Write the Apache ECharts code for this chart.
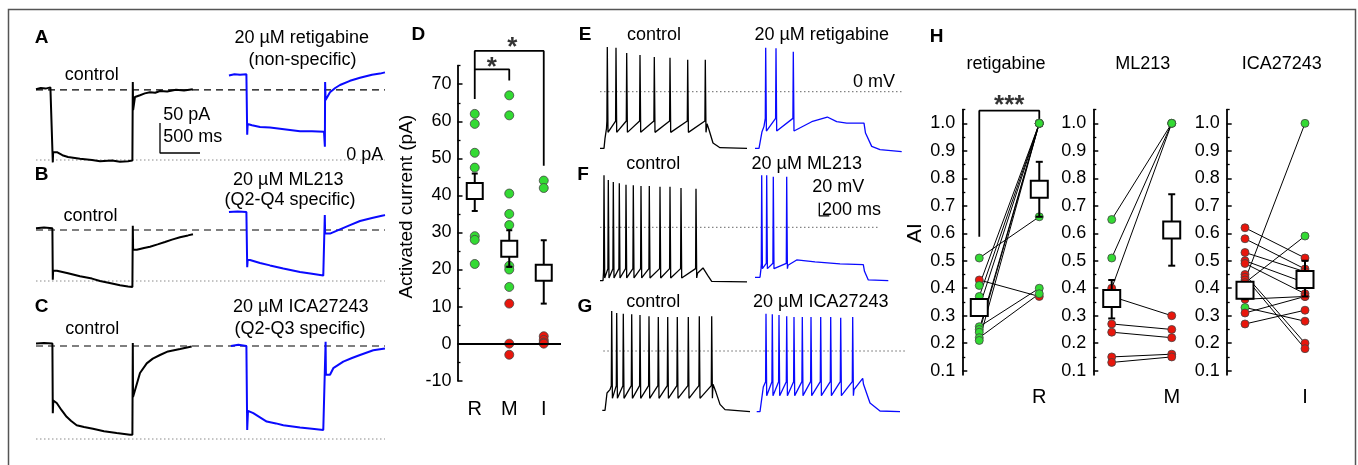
<!DOCTYPE html>
<html>
<head>
<meta charset="utf-8">
<script src="https://cdn.jsdelivr.net/npm/echarts@6/dist/echarts.min.js"></script>
<style>
  html, body { margin: 0; padding: 0; background: #fff; }
  #chart { width: 1358px; height: 465px; }
</style>
</head>
<body>
<div id="chart"></div>
<script>
const FONT = '"Liberation Sans", Arial, sans-serif';
const BLUE = '#0a0aff', GREEN = '#33da33', RED = '#e8160c';

// ---- A-C: voltage-clamp sweeps, [time (ms), current (pA)] ----
const ctrlA = [[0,118],[60,120],[120,119],[180,121],[205,118],[210,-4],[214,13],[262,13],[330,8],[400,5],[550,2],[700,0],[800,-2],[950,-1],[1050,-3],[1150,-2],[1205,-1],[1210,130],[1214,83],[1237,105],[1300,108],[1360,111],[1425,113],[1490,112],[1550,115],[1640,114],[1750,117],[1850,116],[1960,118]];
const retA = [[2412,141],[2480,143],[2550,142],[2630,143],[2636,143],[2640,42],[2646,60],[2700,58],[2800,55],[2925,54],[3050,52],[3175,50],[3300,48],[3450,48],[3600,47],[3608,47],[3611,22],[3614,130],[3620,100],[3675,113],[3740,120],[3800,125],[3925,132],[4050,137],[4200,142],[4300,144],[4362,146]];
const ctrlB = [[0,88],[100,89],[205,88],[210,2],[214,17],[262,17],[400,13],[550,8],[700,4],[800,0],[950,-4],[1050,-7],[1150,-9],[1205,-10],[1210,92],[1214,52],[1260,52],[1350,55],[1425,57],[1520,61],[1612,65],[1700,69],[1800,73],[1900,76],[1962,78]];
const retB = [[2412,115],[2520,116],[2630,115],[2640,23],[2646,35],[2675,35],[2800,30],[2925,26],[3091,21],[3300,15],[3450,12],[3591,9],[3606,9],[3610,110],[3614,79],[3675,79],[3800,86],[3925,93],[4050,100],[4200,105],[4337,109],[4362,110]];
const ctrlC = [[0,159],[100,160],[205,159],[210,43],[216,64],[259,60],[320,48],[383,37],[440,30],[508,23],[600,20],[712,17],[850,13],[1008,10],[1175,7],[1205,7],[1210,160],[1213,70],[1237,70],[1300,110],[1384,126],[1460,134],[1550,140],[1650,146],[1800,150],[1946,154]];
const retC = [[2437,155],[2530,157],[2630,155],[2640,15],[2650,47],[2716,43],[2800,36],[2884,29],[3000,26],[3091,23],[3300,19],[3450,17],[3591,15],[3616,15],[3620,162],[3624,107],[3675,107],[3716,118],[3841,129],[3950,135],[4050,140],[4216,148],[4362,151]];
const holdLevels = [117, 85, 155];   // dashed line: control holding current (pA)
const sweepEnd = 4362;               // ms
const barA = [[1550, 61.7], [1550, 11.7], [2050, 11.7]]; // 50 pA / 500 ms

// ---- E-G: current-clamp spike trains (ms, mV); levels = [threshold, AHP trough] ----
const eCtrlPre = [[200,-85],[280,-85],[300,-70],[330,-55]];
const eCtrlSpikeT = [346,520,734,1000,1286,1600,1954,2306];
const eCtrlSpikeV = [67,66,58,55,52,51,48,48];
const eCtrlLevels = [-44,-61];
const eCtrlPost = [[2340,-48],[2380,-57],[2460,-77],[2600,-84],[3140,-85]];
const eDrugPre = [[3300,-85],[3380,-85],[3440,-60],[3480,-52]];
const eDrugSpikeT = [3514,3720,4066];
const eDrugSpikeV = [66,65,60];
const eDrugLevels = [-40,-59];
const eDrugPost = [[4100,-58],[4434,-45],[4746,-38],[4934,-45],[5134,-47],[5480,-47],[5510,-62],[5634,-82],[5800,-87],[6234,-90]];

const fCtrlPre = [[200,-80],[260,-80],[270,-68]];
const fCtrlSpikeT = [280,366,466,586,720,866,1020,1186,1400,1600,1820,2120];
const fCtrlSpikeV = [78,71,68,66,64,63,62,62,61,61,59,58];
const fCtrlLevels = [-62,-76];
const fCtrlPost = [[2150,-69],[2260,-61],[2300,-64],[2354,-72],[2434,-81],[3140,-82]];
const fDrugPre = [[3300,-75],[3400,-75],[3420,-62]];
const fDrugSpikeT = [3434,3534,3666,3934];
const fDrugSpikeV = [78,78,76,76];
const fDrugLevels = [-54,-62];
const fDrugPost = [[3960,-57],[4134,-49],[4500,-52],[5000,-55],[5466,-56],[5490,-66],[5566,-79],[5966,-80]];

const gCtrlPre = [[246,-89],[300,-89],[340,-63],[400,-58]];
const gCtrlSpikeT = [434,534,666,834,1000,1180,1366,1554,1746,1966,2186,2434];
const gCtrlSpikeV = [60,57,56,55,54,52,51,51,51,51,52,52];
const gCtrlLevels = [-52,-71];
const gCtrlPost = [[2460,-50],[2520,-62],[2600,-80],[2700,-88],[3200,-91]];
const gDrugPre = [[3334,-91],[3400,-91],[3466,-54]];
const gDrugSpikeT = [3520,3646,3780,3934,4080,4246,4420,4614,4814,5014,5254];
const gDrugSpikeV = [56,55,54,52,51,51,51,51,51,50,51];
const gDrugLevels = [-46,-67];
const gDrugPost = [[5280,-58],[5454,-41],[5470,-50],[5600,-78],[5800,-90],[6200,-91]];

const zeroSpans = [[200, 6260], [200, 5800], [266, 6334]]; // 0 mV dotted lines (ms)
const barF = [[4586, 37], [4586, 17], [4786, 17]];          // 20 mV / 200 ms

// ---- D: activated current (pA) ----
const dCats = ['R', 'M', 'I'];
const dGreen = [[62,59.3,51.5,47.5,29,28,21.5],[67,61.6,40.5,35,32,21,20,15.3],[44,42]];
const dRed = [[],[10.8,0,-3],[2,1,0.3,0]];
const dMean = [41.2, 25.6, 19.1];
const dErrLo = [35.8, 20.7, 10.8];
const dErrHi = [45.9, 30.6, 27.9];
const dTicks = [-10,0,10,20,30,40,50,60,70];
const dMinor = [-5,5,15,25,35,45,55,65,75];

// ---- H: AI before / after drug ----
const hTitles = ['retigabine', 'ML213', 'ICA27243'];
const hLetters = ['R', 'M', 'I'];
const hRBefore = [0.51,0.43,0.41,0.37,0.33,0.26,0.25,0.24,0.22,0.21];
const hRAfter  = [0.66,0.37,1.00,1.00,1.00,0.40,1.00,1.00,0.38,1.00];
const hRColB = ['g','r','g','g','g','g','g','g','g','g'];
const hRColA = ['g','r','g','g','g','g','g','g','g','g'];
const hMBefore = [0.65,0.51,0.40,0.37,0.27,0.24,0.15,0.13];
const hMAfter  = [1.00,1.00,1.00,0.30,0.25,0.22,0.16,0.15];
const hMColB = ['g','g','r','r','r','r','r','r'];
const hMColA = ['g','g','g','r','r','r','r','r'];
const hIBefore = [0.62,0.58,0.53,0.50,0.49,0.45,0.44,0.43,0.42,0.36,0.33,0.31,0.27];
const hIAfter  = [0.51,0.47,0.46,0.42,0.38,0.20,0.18,1.00,0.59,0.37,0.28,0.37,0.32];
const hIColB = ['r','r','r','r','r','r','r','r','r','r','g','r','r'];
const hIColA = ['r','r','r','r','r','r','r','g','g','r','r','r','r'];
const hMean = [[0.33,0.76],[0.363,0.612],[0.393,0.432]];
const hErrLo = [[0.31,0.66],[0.29,0.482],[0.36,0.37]];
const hErrHi = [[0.35,0.86],[0.43,0.742],[0.42,0.50]];
const hTicks = [0.1,0.2,0.3,0.4,0.5,0.6,0.7,0.8,0.9,1.0];
const hMinor = [0.15,0.25,0.35,0.45,0.55,0.65,0.75,0.85,0.95,1.05];

// build a spike train polyline from the read spike times / peaks
function spikeTrace(pre, times, peaks, levels, post) {
  const pts = pre.slice();
  times.forEach((t, i) => {
    pts.push([t - 8, levels[0]], [t, peaks[i]], [t + 14, levels[1]]);
  });
  return pts.concat(post);
}

function line(gi, data, color, width, type) {
  return {
    type: 'line', xAxisIndex: gi, yAxisIndex: gi, data, symbol: 'none',
    clip: false, silent: true, z: 3,
    lineStyle: { color, width, type: type || 'solid' }
  };
}

function errBar(cap) {
  return (params, api) => {
    const a = api.coord([api.value(0), api.value(1)]);
    const b = api.coord([api.value(0), api.value(2)]);
    const st = { stroke: '#000', lineWidth: 2 };
    return {
      type: 'group', children: [
        { type: 'line', shape: { x1: a[0], y1: a[1], x2: b[0], y2: b[1] }, style: st },
        { type: 'line', shape: { x1: a[0] - cap, y1: a[1], x2: a[0] + cap, y2: a[1] }, style: st },
        { type: 'line', shape: { x1: b[0] - cap, y1: b[1], x2: b[0] + cap, y2: b[1] }, style: st }
      ]
    };
  };
}

const colorOf = (c) => (c === 'g' ? GREEN : RED);

// grids: A, B, C, D, E, F, G, H1, H2, H3
const grid = [
  { left: 36, top: 58, width: 349, height: 114 },
  { left: 36, top: 179, width: 349, height: 114 },
  { left: 36, top: 337, width: 349, height: 114 },
  { left: 457.5, top: 65.7, width: 103.5, height: 315 },
  { left: 590, top: 41.7, width: 320, height: 120 },
  { left: 590, top: 177.3, width: 320, height: 120 },
  { left: 590, top: 301, width: 320, height: 120 },
  { left: 962.3, top: 109.6, width: 99, height: 265.2 },
  { left: 1093.3, top: 109.6, width: 99, height: 265.2 },
  { left: 1226.7, top: 109.6, width: 99, height: 265.2 }
];
const hMin = [-0.283, -0.307, -0.305];

const axisText = { color: '#000', fontFamily: FONT, fontSize: 18 };
const xAxis = [], yAxis = [];
for (let i = 0; i < 3; i++) {
  xAxis.push({ gridIndex: i, type: 'value', min: 0, max: 4362.5, show: false });
  yAxis.push({ gridIndex: i, type: 'value', min: -20, max: 170, show: false });
}
xAxis.push({
  gridIndex: 3, type: 'category', data: dCats,
  axisLine: { show: false }, axisTick: { show: false }, splitLine: { show: false },
  axisLabel: Object.assign({}, axisText, { fontSize: 20, margin: 19 })
});
yAxis.push({
  gridIndex: 3, type: 'value', min: -10, max: 75, position: 'left',
  axisLine: { show: true, onZero: false, lineStyle: { color: '#000', width: 1.8 } },
  axisTick: { show: true, inside: true, length: 5, customValues: dTicks, lineStyle: { color: '#000', width: 1.5 } },
  axisLabel: Object.assign({ customValues: dTicks, margin: 6 }, axisText),
  splitLine: { show: false }
});
for (let i = 4; i < 7; i++) {
  xAxis.push({ gridIndex: i, type: 'value', min: 0, max: 6400, show: false });
  yAxis.push({ gridIndex: i, type: 'value', min: -105, max: 75, show: false });
}
for (let k = 0; k < 3; k++) {
  xAxis.push({
    gridIndex: 7 + k, type: 'value', min: hMin[k], max: hMin[k] + 1.65,
    axisLine: { show: false, onZero: false }, axisTick: { show: false }, splitLine: { show: false },
    axisLabel: Object.assign({}, axisText, { fontSize: 20, margin: 13, customValues: [1], formatter: () => hLetters[k] })
  });
  yAxis.push({
    gridIndex: 7 + k, type: 'value', min: 0.085, max: 1.05, position: 'left',
    axisLine: { show: true, onZero: false, lineStyle: { color: '#000', width: 1.8 } },
    axisTick: { show: true, inside: true, length: 5, customValues: hTicks, lineStyle: { color: '#000', width: 1.5 } },
    axisLabel: Object.assign({ customValues: hTicks, margin: 7, formatter: (v) => v.toFixed(1) }, axisText),
    splitLine: { show: false }
  });
}
// minor tick overlays (yAxis 10 = D, 11-13 = H)
yAxis.push({
  gridIndex: 3, type: 'value', min: -10, max: 75, position: 'left', offset: 0,
  axisLine: { show: false, onZero: false }, axisLabel: { show: false }, splitLine: { show: false },
  axisTick: { show: true, inside: true, length: 3, customValues: dMinor, lineStyle: { color: '#000', width: 1.3 } }
});
for (let k = 0; k < 3; k++) {
  yAxis.push({
    gridIndex: 7 + k, type: 'value', min: 0.085, max: 1.05, position: 'left', offset: 0,
    axisLine: { show: false, onZero: false }, axisLabel: { show: false }, splitLine: { show: false },
    axisTick: { show: true, inside: true, length: 3, customValues: hMinor, lineStyle: { color: '#000', width: 1.3 } }
  });
}

const series = [];

// A-C traces
const ctrlSweeps = [ctrlA, ctrlB, ctrlC];
const drugSweeps = [retA, retB, retC];
for (let i = 0; i < 3; i++) {
  series.push(line(i, [[0, holdLevels[i]], [sweepEnd, holdLevels[i]]], '#000', 1.2, [7, 5]));
  series.push(line(i, [[0, 0], [sweepEnd, 0]], '#8a8a8a', 1, [1.5, 2.5]));
  series.push(line(i, ctrlSweeps[i], '#000', 2));
  series.push(line(i, drugSweeps[i], BLUE, 2));
}
series.push(line(0, barA, '#000', 1.3));

// E-G traces
const ctrlTrains = [
  spikeTrace(eCtrlPre, eCtrlSpikeT, eCtrlSpikeV, eCtrlLevels, eCtrlPost),
  spikeTrace(fCtrlPre, fCtrlSpikeT, fCtrlSpikeV, fCtrlLevels, fCtrlPost),
  spikeTrace(gCtrlPre, gCtrlSpikeT, gCtrlSpikeV, gCtrlLevels, gCtrlPost)
];
const drugTrains = [
  spikeTrace(eDrugPre, eDrugSpikeT, eDrugSpikeV, eDrugLevels, eDrugPost),
  spikeTrace(fDrugPre, fDrugSpikeT, fDrugSpikeV, fDrugLevels, fDrugPost),
  spikeTrace(gDrugPre, gDrugSpikeT, gDrugSpikeV, gDrugLevels, gDrugPost)
];
for (let i = 0; i < 3; i++) {
  const gi = 4 + i;
  series.push(line(gi, [[zeroSpans[i][0], 0], [zeroSpans[i][1], 0]], '#666', 1, [1.5, 2.5]));
  series.push(line(gi, ctrlTrains[i], '#000', 1.3));
  series.push(line(gi, drugTrains[i], BLUE, 1.3));
}
series.push(line(5, barF, '#000', 1.3));

// D
const dot = { borderColor: '#444', borderWidth: 0.8, opacity: 1 };
const box = { color: '#fff', borderColor: '#000', borderWidth: 2, opacity: 1 };
series.push({
  type: 'scatter', xAxisIndex: 3, yAxisIndex: 3, symbolSize: 9, z: 4, silent: true,
  data: dGreen.flatMap((vals, c) => vals.map((v) => [c, v])),
  itemStyle: Object.assign({ color: GREEN }, dot),
  markLine: {
    silent: true, symbol: 'none', label: { show: false }, animation: false,
    lineStyle: { color: '#000', width: 1.8, type: 'solid' }, data: [{ yAxis: 0 }]
  }
});
series.push({
  type: 'scatter', xAxisIndex: 3, yAxisIndex: 3, symbolSize: 9, z: 4, silent: true,
  data: dRed.flatMap((vals, c) => vals.map((v) => [c, v])),
  itemStyle: Object.assign({ color: RED }, dot)
});
series.push({
  type: 'custom', xAxisIndex: 3, yAxisIndex: 3, z: 5, silent: true,
  data: dMean.map((m, c) => [c, dErrLo[c], dErrHi[c]]),
  encode: { x: 0, y: [1, 2] }, renderItem: errBar(3)
});
series.push({
  type: 'scatter', xAxisIndex: 3, yAxisIndex: 3, symbol: 'rect', symbolSize: 16, z: 6, silent: true,
  data: dMean.map((m, c) => [c, m]),
  itemStyle: box
});
series.push(line(3, [[0, 66], [0, 79], [2, 79], [2, 48]], '#000', 1.8));
series.push(line(3, [[0, 74], [1, 74], [1, 71]], '#000', 1.8));
const starLabel = { show: true, position: 'inside', formatter: (p) => p.data.star, fontSize: 26, fontWeight: 'bold', color: '#000', fontFamily: FONT };
series.push({
  type: 'scatter', xAxisIndex: 3, yAxisIndex: 3, symbolSize: 1, clip: false, silent: true, z: 7,
  itemStyle: { color: 'transparent' }, label: starLabel,
  data: [
    { value: [1, 81.4], star: '*', label: { offset: [3, 6] } },
    { value: [0, 76], star: '*', label: { offset: [17, 6] } }
  ]
});

// H
const hSets = [
  [hRBefore, hRAfter, hRColB, hRColA],
  [hMBefore, hMAfter, hMColB, hMColA],
  [hIBefore, hIAfter, hIColB, hIColA]
];
hSets.forEach(([before, after, colB, colA], k) => {
  const gi = 7 + k;
  series.push({
    type: 'custom', xAxisIndex: gi, yAxisIndex: gi, z: 2, silent: true,
    data: before.map((b, i) => [b, after[i]]),
    renderItem: (params, api) => {
      const p0 = api.coord([0, api.value(0)]);
      const p1 = api.coord([1, api.value(1)]);
      return { type: 'line', shape: { x1: p0[0], y1: p0[1], x2: p1[0], y2: p1[1] }, style: { stroke: '#000', lineWidth: 1 } };
    }
  });
  series.push({
    type: 'scatter', xAxisIndex: gi, yAxisIndex: gi, symbolSize: 8, z: 4, silent: true,
    data: before.map((v, i) => ({ value: [0, v], itemStyle: Object.assign({ color: colorOf(colB[i]) }, dot) }))
      .concat(after.map((v, i) => ({ value: [1, v], itemStyle: Object.assign({ color: colorOf(colA[i]) }, dot) })))
  });
  series.push({
    type: 'custom', xAxisIndex: gi, yAxisIndex: gi, z: 5, silent: true,
    data: [0, 1].map((s) => [s, hErrLo[k][s], hErrHi[k][s]]),
    encode: { x: 0, y: [1, 2] }, renderItem: errBar(3.5)
  });
  series.push({
    type: 'scatter', xAxisIndex: gi, yAxisIndex: gi, symbol: 'rect', symbolSize: 17, z: 6, silent: true,
    data: [0, 1].map((s) => [s, hMean[k][s]]),
    itemStyle: box
  });
});
series.push(line(7, [[0, 0.587], [0, 1.046], [1, 1.046], [1, 1.012]], '#000', 1.8));
series.push({
  type: 'scatter', xAxisIndex: 7, yAxisIndex: 7, symbolSize: 1, clip: false, silent: true, z: 7,
  itemStyle: { color: 'transparent' }, label: starLabel,
  data: [{ value: [0.5, 1.085], star: '***', label: { offset: [0, 6] } }]
});

// text labels
function txt(x, y, text, size, opt) {
  opt = opt || {};
  const align = opt.align || 'center';
  return {
    type: 'text', x, y, rotation: opt.rot || 0, silent: true, z: 10,
    style: {
      text, fill: '#000', fontFamily: FONT, fontSize: size, fontWeight: opt.bold ? 'bold' : 'normal',
      align, verticalAlign: 'middle', textAlign: align, textVerticalAlign: 'middle'
    }
  };
}
const B = { bold: true };
const graphic = [
  { type: 'rect', silent: true, z: 0, shape: { x: 8.5, y: 9.5, width: 1347, height: 470 }, style: { fill: 'none', stroke: '#555', lineWidth: 1.5 } },
  txt(41.7, 37.7, 'A', 19, B), txt(91.7, 75, 'control', 18),
  txt(301.7, 38, '20 µM retigabine', 18), txt(302.5, 60, '(non-specific)', 18),
  txt(163.3, 115, '50 pA', 18, { align: 'left' }), txt(163.3, 136.7, '500 ms', 18, { align: 'left' }),
  txt(383.3, 155, '0 pA', 18, { align: 'right' }),
  txt(41.7, 175, 'B', 19, B), txt(90.5, 215.7, 'control', 18),
  txt(288.3, 180, '20 µM ML213', 18), txt(290, 200, '(Q2-Q4 specific)', 18),
  txt(41.7, 307, 'C', 19, B), txt(92.3, 329.3, 'control', 18),
  txt(300.8, 307.3, '20 µM ICA27243', 18), txt(300, 329.3, '(Q2-Q3 specific)', 18),
  txt(418.3, 35, 'D', 19, B), txt(406.7, 206.7, 'Activated current (pA)', 19, { rot: Math.PI / 2 }),
  txt(585, 35, 'E', 19, B), txt(654, 35, 'control', 18), txt(821.7, 35, '20 µM retigabine', 18),
  txt(874, 81.7, '0 mV', 18),
  txt(583, 175, 'F', 19, B), txt(653.3, 164, 'control', 18), txt(806.7, 164, '20 µM ML213', 18),
  txt(838.3, 187.3, '20 mV', 18), txt(822, 210, '200 ms', 18, { align: 'left' }),
  txt(585, 306.7, 'G', 19, B), txt(653.3, 301.7, 'control', 18), txt(820.8, 301.7, '20 µM ICA27243', 18),
  txt(936.7, 36.7, 'H', 19, B),
  txt(1006, 64, hTitles[0], 18), txt(1142.7, 64, hTitles[1], 18), txt(1281.7, 64, hTitles[2], 18),
  txt(915, 233, 'AI', 21, { rot: Math.PI / 2 })
];

const chart = echarts.init(document.getElementById('chart'), null, { renderer: 'canvas' });
chart.setOption({
  animation: false,
  backgroundColor: '#fff',
  grid, xAxis, yAxis, series, graphic
});
</script>
</body>
</html>
